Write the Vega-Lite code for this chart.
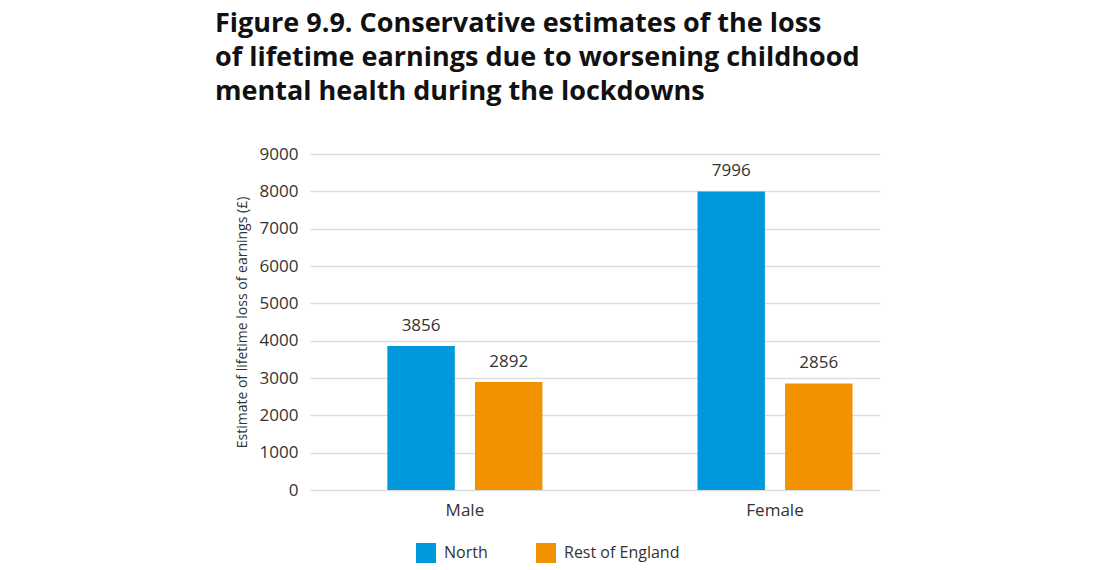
{
  "$schema": "https://vega.github.io/schema/vega-lite/v6.json",
  "width": 570,
  "height": 336,
  "padding": {"left": 215, "top": 10, "right": 10, "bottom": 5},
  "background": "white",
  "title": {
    "text": ["Figure 9.9. Conservative estimates of the loss", "of lifetime earnings due to worsening childhood", "mental health during the lockdowns"],
    "anchor": "start",
    "frame": "group",
    "dx": -95,
    "font": "Open Sans",
    "fontSize": 27,
    "fontWeight": "bold",
    "color": "#111111",
    "lineHeight": 34,
    "offset": 39
  },
  "data": {
    "values": [
      {"gender": "Male", "region": "North", "value": 3856},
      {"gender": "Male", "region": "Rest of England", "value": 2892},
      {"gender": "Female", "region": "North", "value": 7996},
      {"gender": "Female", "region": "Rest of England", "value": 2856}
    ]
  },
  "encoding": {
    "x": {
      "field": "gender",
      "type": "nominal",
      "sort": ["Male", "Female"],
      "scale": {"paddingInner": 0.5, "paddingOuter": 0.169, "align": 0.738},
      "axis": {"title": null, "labelAngle": 0, "labelFont": "Open Sans", "labelFontSize": 17, "labelColor": "#333333", "labelPadding": 12, "ticks": false, "domain": false}
    },
    "xOffset": {"field": "region", "type": "nominal", "sort": ["North", "Rest of England"], "scale": {"paddingInner": 0.23, "paddingOuter": 0}},
    "y": {
      "field": "value",
      "type": "quantitative",
      "scale": {"domain": [0, 9000]},
      "axis": {
        "title": "Estimate of lifetime loss of earnings (£)",
        "titleFont": "Open Sans",
        "titleFontSize": 14,
        "titleFontWeight": "normal",
        "titleColor": "#333333",
        "titlePadding": 10,
        "values": [0, 1000, 2000, 3000, 4000, 5000, 6000, 7000, 8000, 9000],
        "format": "d",
        "labelFont": "Open Sans",
        "labelFontSize": 17,
        "labelColor": "#333333",
        "labelPadding": 12,
        "ticks": false,
        "domain": false,
        "gridColor": "#dddddd",
        "gridWidth": 1.5
      }
    }
  },
  "layer": [
    {
      "mark": {"type": "bar"},
      "encoding": {
        "color": {
          "field": "region",
          "type": "nominal",
          "sort": ["North", "Rest of England"],
          "scale": {"domain": ["North", "Rest of England"], "range": ["#0099DE", "#F39200"]},
          "legend": {
            "title": null,
            "orient": "none",
            "legendX": 106,
            "legendY": 389,
            "direction": "horizontal",
            "symbolType": "square",
            "symbolSize": 400,
            "symbolStrokeWidth": 0,
            "labelFont": "Open Sans",
            "labelFontSize": 16,
            "labelColor": "#333333",
            "columnPadding": 48,
            "labelOffset": 8
          }
        }
      }
    },
    {
      "mark": {"type": "text", "dy": -20, "font": "Open Sans", "fontSize": 17, "color": "#333333"},
      "encoding": {"text": {"field": "value", "type": "quantitative", "format": "d"}}
    }
  ],
  "config": {"view": {"stroke": null}}
}
